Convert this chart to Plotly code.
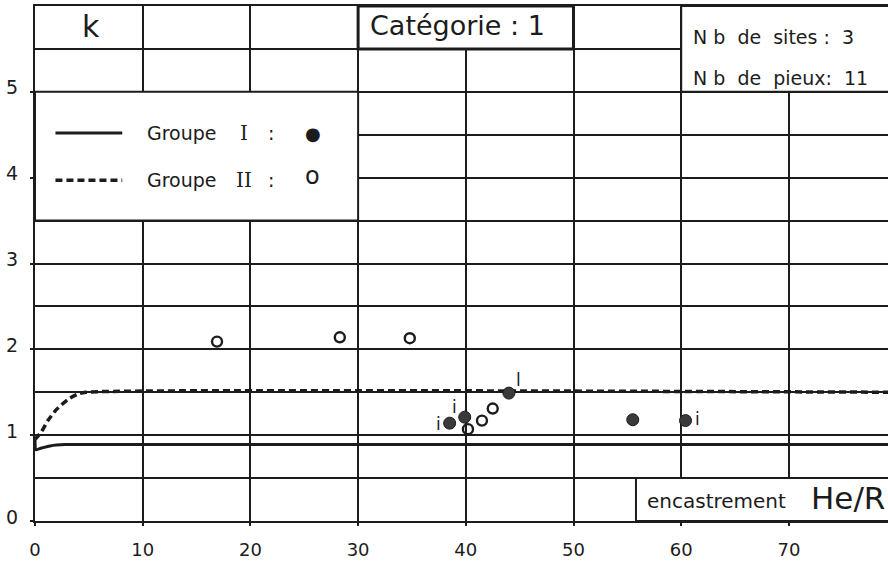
import plotly.graph_objects as go

# Reference curves k(He/R) for the two groups
g1_curve_x = [0.0, 0.1, 0.6, 1.4, 2.8, 5.0, 80.0]
g1_curve_y = [0.95, 0.83, 0.85, 0.875, 0.89, 0.89, 0.89]
g2_curve_x = [0.0, 0.6, 1.2, 2.0, 3.1, 4.0, 4.7, 80.0]
g2_curve_y = [0.95, 1.04, 1.17, 1.3, 1.42, 1.48, 1.5, 1.5]

# Measured piles
g1_x = [38.5, 39.9, 44.0, 55.5, 60.4]
g1_y = [1.14, 1.21, 1.49, 1.18, 1.17]
g1_tags = ["i", "i", "l", "", "i"]
g2_x = [16.9, 28.3, 34.8, 40.2, 41.5, 42.5]
g2_y = [2.09, 2.14, 2.13, 1.07, 1.17, 1.31]

x_ticks = [0, 10, 20, 30, 40, 50, 60, 70]
y_ticks = [0, 1, 2, 3, 4, 5]

INK = "#1c1c1c"
FONT = "DejaVu Sans"

fig = go.Figure()

fig.add_trace(go.Scatter(
    x=g1_curve_x, y=g1_curve_y, mode="lines",
    line=dict(color=INK, width=3, shape="spline", smoothing=0.6),
    hoverinfo="skip", showlegend=False))
fig.add_trace(go.Scatter(
    x=g2_curve_x, y=g2_curve_y, mode="lines",
    line=dict(color=INK, width=3.5, dash="7px,4px", shape="spline", smoothing=0.6),
    hoverinfo="skip", showlegend=False))

fig.add_trace(go.Scatter(
    x=g2_x, y=g2_y, mode="markers",
    marker=dict(symbol="circle-open", size=10, color=INK, line=dict(width=2.4, color=INK)),
    showlegend=False, name="Groupe II"))
fig.add_trace(go.Scatter(
    x=g1_x, y=g1_y, mode="markers",
    marker=dict(symbol="circle", size=12, color="#3a3a3a", line=dict(width=1, color=INK)),
    showlegend=False, name="Groupe I"))

annotations = []

# Small tags next to some Groupe I piles
tag_shift = {0: (-11, -1), 1: (-10, 10), 2: (10, 13), 4: (12, 2)}
for i, t in enumerate(g1_tags):
    if not t:
        continue
    dx, dy = tag_shift[i]
    annotations.append(dict(x=g1_x[i], y=g1_y[i], text=t, showarrow=False,
                            xshift=dx, yshift=dy,
                            font=dict(family=FONT, size=17, color=INK)))

shapes = []

def box(x0, x1, y0, y1, w=2):
    shapes.append(dict(type="rect", xref="x", yref="y", x0=x0, x1=x1, y0=y0, y1=y1,
                       fillcolor="white", line=dict(color=INK, width=w), layer="between"))

# Legend panel
box(0, 30, 3.5, 5)
shapes.append(dict(type="line", xref="x", yref="y", x0=1.9, x1=8.1, y0=4.52, y1=4.52,
                   line=dict(color=INK, width=3), layer="between"))
shapes.append(dict(type="line", xref="x", yref="y", x0=1.9, x1=8.1, y0=3.97, y1=3.97,
                   line=dict(color=INK, width=3.5, dash="7px,4px"), layer="between"))
for yy, num, sym, symsize in [(4.52, "I", "●", 18), (3.97, "II", "o", 24)]:
    annotations.append(dict(x=10.2, y=yy, text="Groupe", xanchor="left", showarrow=False,
                            font=dict(family=FONT, size=19, color=INK)))
    annotations.append(dict(x=19.4, y=yy, text=num, showarrow=False,
                            font=dict(family="DejaVu Serif", size=20, color=INK)))
    annotations.append(dict(x=21.9, y=yy, text=":", showarrow=False,
                            font=dict(family=FONT, size=19, color=INK)))
    annotations.append(dict(x=25.8, y=yy + (0.0 if sym == "●" else 0.05), text=sym,
                            showarrow=False, font=dict(family=FONT, size=symsize, color=INK)))

# Header cells
box(30, 50, 5.5, 6, w=3)
annotations.append(dict(x=39.2, y=5.77, text="Catégorie : 1", showarrow=False,
                        font=dict(family=FONT, size=27, color=INK)))
annotations.append(dict(x=5.2, y=5.76, text="k", showarrow=False,
                        font=dict(family=FONT, size=30, color=INK)))

box(60, 82, 5, 6)
annotations.append(dict(x=60.9, y=5.64, text="N b  de  sites :  3", xanchor="left",
                        showarrow=False, font=dict(family=FONT, size=19, color=INK)))
annotations.append(dict(x=60.9, y=5.16, text="N b  de  pieux:  11", xanchor="left",
                        showarrow=False, font=dict(family=FONT, size=19, color=INK)))

# Axis title cell
box(55.8, 82, 0, 0.5)
annotations.append(dict(x=56.6, y=0.235, text="encastrement", xanchor="left",
                        showarrow=False, font=dict(family=FONT, size=20, color=INK)))
annotations.append(dict(x=79.1, y=0.27, text="He/R", xanchor="right",
                        showarrow=False, font=dict(family=FONT, size=31, color=INK)))

fig.update_layout(
    width=888, height=564,
    margin=dict(l=35, r=0, t=6, b=43),
    paper_bgcolor="white", plot_bgcolor="white",
    shapes=shapes, annotations=annotations,
    showlegend=False,
    xaxis=dict(range=[0, 79.2], tickmode="array", tickvals=x_ticks,
               ticktext=[str(v) for v in x_ticks],
               showgrid=True, gridcolor=INK, gridwidth=2,
               showline=True, linecolor=INK, linewidth=2, mirror=True,
               ticks="outside", ticklen=3, tickwidth=2, tickcolor=INK,
               ticklabelstandoff=8,
               zeroline=False, tickfont=dict(family=FONT, size=18, color=INK)),
    yaxis=dict(range=[0, 6], tickmode="array", tickvals=y_ticks,
               ticktext=[str(v) for v in y_ticks],
               showgrid=True, gridcolor=INK, gridwidth=2,
               minor=dict(tickmode="linear", tick0=0, dtick=0.5, showgrid=True,
                          gridcolor=INK, gridwidth=2),
               showline=True, linecolor=INK, linewidth=2,
               ticks="outside", ticklen=3, tickwidth=2, tickcolor=INK,
               ticklabelstandoff=8, ticklabelshift=-4,
               zeroline=False, tickfont=dict(family=FONT, size=19, color=INK)),
)

fig.write_html("out.html")
